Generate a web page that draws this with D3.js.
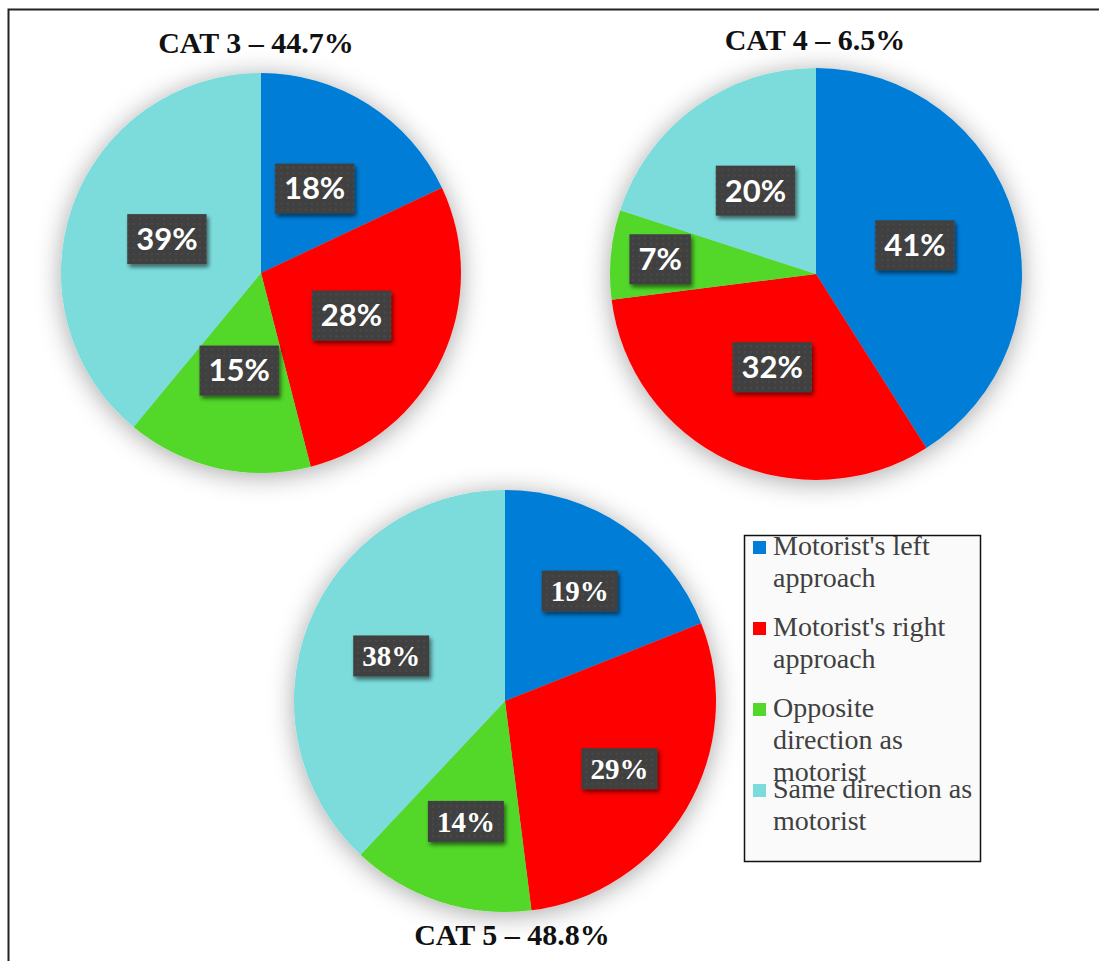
<!DOCTYPE html>
<html>
<head>
<meta charset="utf-8">
<script src="https://cdn.jsdelivr.net/npm/d3@7"></script>
<style>
  body { margin: 0; background: #fff; }
  svg { display: block; }
</style>
</head>
<body>
<svg id="chart" width="1099" height="961"></svg>
<script>
// data
var categories = [ "Motorist's left approach", "Motorist's right approach", "Opposite direction as motorist", "Same direction as motorist" ];
var legendLines = [ [ "Motorist's left", "approach" ], [ "Motorist's right", "approach" ], [ "Opposite", "direction as", "motorist" ], [ "Same direction as", "motorist" ] ];
var colors = [ "#007dd6", "#ff0000", "#52d82a", "#7bdcdc" ];
var cat3Values = [ 18, 28, 15, 39 ];
var cat4Values = [ 41, 32, 7, 20 ];
var cat5Values = [ 19, 29, 14, 38 ];
var chartTitles = [ "CAT 3 \u2013 44.7%", "CAT 4 \u2013 6.5%", "CAT 5 \u2013 48.8%" ];

var svg = d3.select( '#chart' );
var defs = svg.append( 'defs' );

// soft halo behind each pie
var halo = defs.append( 'filter' ).attr( 'id', 'halo' )
	.attr( 'x', '-25%' ).attr( 'y', '-25%' ).attr( 'width', '150%' ).attr( 'height', '150%' );
halo.append( 'feDropShadow' )
	.attr( 'dx', 0 ).attr( 'dy', 3 ).attr( 'stdDeviation', 13 )
	.attr( 'flood-color', '#000' ).attr( 'flood-opacity', 0.35 );

// label box shadow
var boxShadow = defs.append( 'filter' ).attr( 'id', 'boxShadow' )
	.attr( 'x', '-20%' ).attr( 'y', '-20%' ).attr( 'width', '150%' ).attr( 'height', '160%' );
boxShadow.append( 'feDropShadow' )
	.attr( 'dx', 2 ).attr( 'dy', 3 ).attr( 'stdDeviation', 2 )
	.attr( 'flood-color', '#000' ).attr( 'flood-opacity', 0.55 );

// dotted texture of the label boxes
var dots = defs.append( 'pattern' ).attr( 'id', 'dots' )
	.attr( 'width', 6 ).attr( 'height', 6 ).attr( 'patternUnits', 'userSpaceOnUse' );
dots.append( 'rect' ).attr( 'width', 6 ).attr( 'height', 6 ).attr( 'fill', '#404040' );
dots.append( 'circle' ).attr( 'cx', 3 ).attr( 'cy', 3 ).attr( 'r', 0.8 ).attr( 'fill', '#575757' );

// outer frame
svg.append( 'rect' )
	.attr( 'x', 8.5 ).attr( 'y', 9.5 )
	.attr( 'width', 1200 ).attr( 'height', 1200 )
	.attr( 'fill', 'none' ).attr( 'stroke', '#222' ).attr( 'stroke-width', 2 );

var charts = [
	{ values: cat3Values, title: chartTitles[ 0 ], cx: 261, cy: 273, r: 200, labelR: [ 0.5, 0.5, 0.5, 0.5 ],
	  tx: 256, ty: 53, labelFont: 'Lato, "Open Sans", sans-serif', labelSize: 31, boxH: 50 },
	{ values: cat4Values, title: chartTitles[ 1 ], cx: 816, cy: 274, r: 206, labelR: [ 0.5, 0.5, 0.76, 0.5 ],
	  tx: 815, ty: 50, labelFont: 'Lato, "Open Sans", sans-serif', labelSize: 31, boxH: 50 },
	{ values: cat5Values, title: chartTitles[ 2 ], cx: 505, cy: 701, r: 211, labelR: [ 0.63, 0.63, 0.6, 0.58 ],
	  tx: 512, ty: 945, labelFont: '"Liberation Serif", "Times New Roman", serif', labelSize: 29, boxH: 41 }
];

var pie = d3.pie().sort( null ).value( function( d ) { return d; } );

charts.forEach( function( c ) {
	var arc = d3.arc().innerRadius( 0 ).outerRadius( c.r );
	var arcs = pie( c.values );

	var g = svg.append( 'g' ).attr( 'transform', 'translate(' + c.cx + ',' + c.cy + ')' );

	g.append( 'g' ).attr( 'filter', 'url(#halo)' )
		.selectAll( 'path' )
		.data( arcs )
		.enter()
		.append( 'path' )
			.attr( 'd', arc )
			.attr( 'fill', function( d, i ) { return colors[ i ]; } );

	var labels = g.selectAll( 'g.label' )
		.data( arcs )
		.enter()
		.append( 'g' )
			.attr( 'class', 'label' )
			.attr( 'transform', function( d, i ) {
				var lr = c.r * c.labelR[ i ];
				var pos = d3.arc().innerRadius( lr ).outerRadius( lr ).centroid( d );
				return 'translate(' + pos + ')';
			} );

	var rects = labels.append( 'rect' )
		.attr( 'fill', 'url(#dots)' )
		.attr( 'filter', 'url(#boxShadow)' );

	var texts = labels.append( 'text' )
		.text( function( d ) { return d.data + '%'; } )
		.attr( 'text-anchor', 'middle' )
		.attr( 'dy', '0.35em' )
		.attr( 'fill', '#fff' )
		.attr( 'font-family', c.labelFont )
		.attr( 'font-weight', 'bold' )
		.attr( 'font-size', c.labelSize );

	texts.each( function( d, i ) {
		var w = this.getComputedTextLength() + 18;
		d3.select( rects.nodes()[ i ] )
			.attr( 'x', -w / 2 ).attr( 'y', -c.boxH / 2 )
			.attr( 'width', w ).attr( 'height', c.boxH );
	} );

	svg.append( 'text' )
		.text( c.title )
		.attr( 'x', c.tx ).attr( 'y', c.ty )
		.attr( 'text-anchor', 'middle' )
		.attr( 'font-family', '"Liberation Serif", "Times New Roman", serif' )
		.attr( 'font-weight', 'bold' )
		.attr( 'font-size', 30 )
		.attr( 'fill', '#111' );
} );

// legend
var legend = svg.append( 'g' ).attr( 'class', 'legend' );
legend.append( 'rect' )
	.attr( 'x', 744.5 ).attr( 'y', 535.5 )
	.attr( 'width', 236 ).attr( 'height', 326 )
	.attr( 'fill', '#fafafa' ).attr( 'stroke', '#111' ).attr( 'stroke-width', 1.5 );

var items = legend.selectAll( 'g.item' )
	.data( categories )
	.enter()
	.append( 'g' )
		.attr( 'class', 'item' )
		.attr( 'transform', function( d, i ) { return 'translate(0,' + ( 555 + i * 81 ) + ')'; } );

items.append( 'rect' )
	.attr( 'x', 753 ).attr( 'y', -14 )
	.attr( 'width', 13 ).attr( 'height', 13 )
	.attr( 'fill', function( d, i ) { return colors[ i ]; } );

items.append( 'text' )
	.attr( 'x', 773 )
	.attr( 'font-family', '"Liberation Serif", "Times New Roman", serif' )
	.attr( 'font-size', 28 )
	.attr( 'fill', '#404040' )
	.selectAll( 'tspan' )
	.data( function( d, i ) { return legendLines[ i ]; } )
	.enter()
	.append( 'tspan' )
		.attr( 'x', 773 )
		.attr( 'y', function( d, j ) { return j * 32; } )
		.text( function( d ) { return d; } );
</script>
</body>
</html>
